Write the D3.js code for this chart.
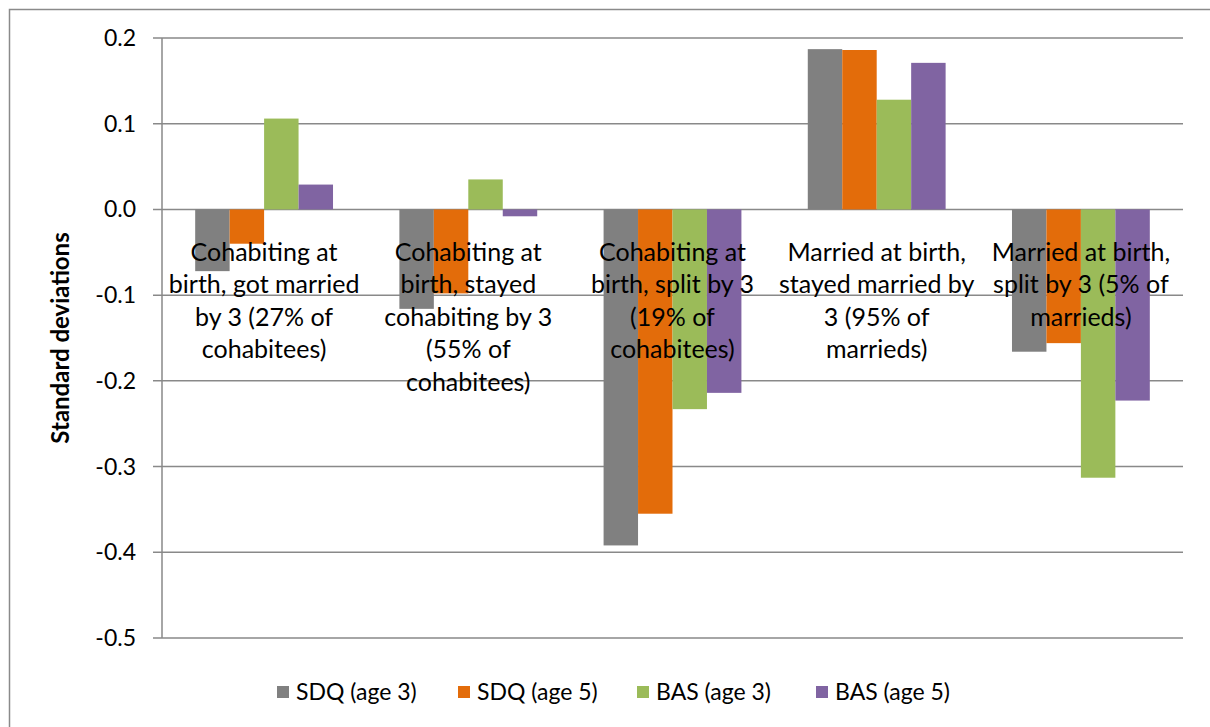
<!DOCTYPE html>
<html>
<head>
<meta charset="utf-8">
<script src="https://cdn.jsdelivr.net/npm/d3@7"></script>
<style>
  body { margin: 0; background: #fff; }
  text { font-family: Lato, "Open Sans", sans-serif; fill: #000; }
</style>
</head>
<body>
<svg id="chart" width="1210" height="727"></svg>
<script>
// data
const categories = [
    ["Cohabiting at", "birth, got married", "by 3 (27% of", "cohabitees)"],
    ["Cohabiting at", "birth, stayed", "cohabiting by 3", "(55% of", "cohabitees)"],
    ["Cohabiting at", "birth, split by 3", "(19% of", "cohabitees)"],
    ["Married at birth,", "stayed married by", "3 (95% of", "marrieds)"],
    ["Married at birth,", "split by 3 (5% of", "marrieds)"]
];
const seriesNames = ["SDQ (age 3)", "SDQ (age 5)", "BAS (age 3)", "BAS (age 5)"];
const sdq3 = [-0.072, -0.116, -0.392, 0.187, -0.166];
const sdq5 = [-0.040, -0.098, -0.355, 0.186, -0.156];
const bas3 = [0.106, 0.035, -0.233, 0.128, -0.313];
const bas5 = [0.029, -0.008, -0.214, 0.171, -0.223];
const yTicks = [0.2, 0.1, 0.0, -0.1, -0.2, -0.3, -0.4, -0.5];
const colors = ["#808080", "#E36C0A", "#9BBB59", "#8064A2"];

const series = [sdq3, sdq5, bas3, bas5];
const svg = d3.select("#chart");

// outer chart border
svg.append("path")
    .attr("d", "M9.5,727 V9.5 H1210")
    .attr("fill", "none")
    .attr("stroke", "#8a8a8a")
    .attr("stroke-width", 1.5);

const plotLeft = 162, plotRight = 1183, plotTop = 38, plotBottom = 638;

const x = d3.scaleBand()
    .domain(d3.range(categories.length))
    .range([plotLeft, plotRight])
    .paddingInner(0.325)
    .paddingOuter(0.1625);

const xs = d3.scaleBand()
    .domain(d3.range(series.length))
    .range([0, x.bandwidth()]);

const y = d3.scaleLinear()
    .domain([-0.5, 0.2])
    .range([plotBottom, plotTop]);

// gridlines
svg.append("g").selectAll("line")
    .data(yTicks)
    .enter()
    .append("line")
    .attr("x1", plotLeft - 9)
    .attr("x2", plotRight)
    .attr("y1", d => y(d))
    .attr("y2", d => y(d))
    .attr("stroke", "#898989")
    .attr("stroke-width", 1.5);

// y axis line
svg.append("line")
    .attr("x1", plotLeft).attr("x2", plotLeft)
    .attr("y1", plotTop).attr("y2", plotBottom)
    .attr("stroke", "#898989")
    .attr("stroke-width", 1.5);

// tick labels (plain hyphen, like the original)
svg.append("g").selectAll("text")
    .data(yTicks)
    .enter()
    .append("text")
    .attr("x", 136)
    .attr("y", d => y(d))
    .attr("dy", "0.35em")
    .attr("text-anchor", "end")
    .style("font-size", "23px")
    .text(d => d3.format(".1f")(d).replace("\u2212", "-"));

// bars
series.forEach(function(vals, s) {
    svg.append("g").selectAll("rect")
        .data(vals)
        .enter()
        .append("rect")
        .attr("x", (d, i) => x(i) + xs(s))
        .attr("width", xs.bandwidth())
        .attr("y", d => y(Math.max(0, d)))
        .attr("height", d => Math.abs(y(d) - y(0)))
        .attr("fill", colors[s]);
});

// category labels, drawn over the bars
const catG = svg.append("g");
categories.forEach(function(lines, i) {
    const t = catG.append("text")
        .attr("text-anchor", "middle")
        .style("font-size", "25px");
    lines.forEach(function(line, j) {
        t.append("tspan")
            .attr("x", x(i) + x.bandwidth() / 2)
            .attr("y", 252 + j * 32.5)
            .attr("dy", "0.35em")
            .text(line);
    });
});

// y title
svg.append("text")
    .attr("transform", `translate(61, ${(plotTop + plotBottom) / 2}) rotate(-90)`)
    .attr("text-anchor", "middle")
    .attr("dy", "0.35em")
    .style("font-size", "24px")
    .style("font-weight", "bold")
    .text("Standard deviations");

// legend
const legendX = [277, 458, 637, 816];
const legend = svg.append("g").selectAll("g")
    .data(seriesNames)
    .enter()
    .append("g")
    .attr("transform", (d, i) => `translate(${legendX[i]}, 692)`);

legend.append("rect")
    .attr("x", 0).attr("y", -6)
    .attr("width", 12).attr("height", 12)
    .attr("fill", (d, i) => colors[i]);

legend.append("text")
    .attr("x", 19)
    .attr("dy", "0.35em")
    .style("font-size", "23px")
    .text(d => d);
</script>
</body>
</html>
